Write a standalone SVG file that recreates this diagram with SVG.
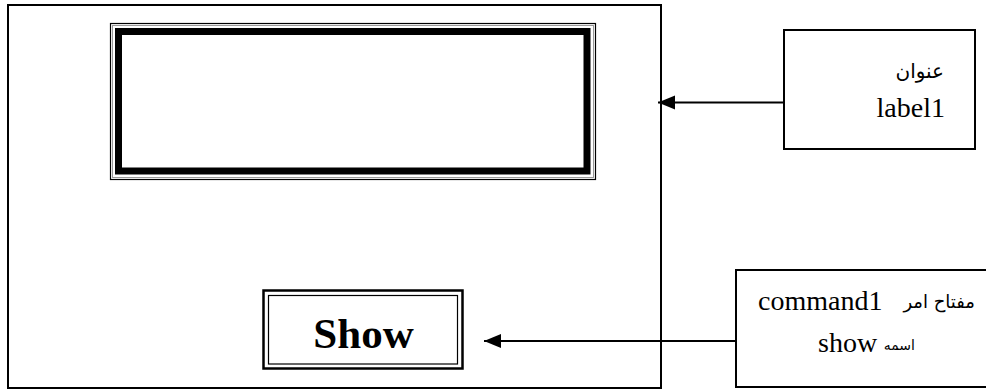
<svg xmlns="http://www.w3.org/2000/svg" width="986" height="390" viewBox="0 0 986 390">
<defs>
<style>
.frame{fill:#fff;stroke:#000;stroke-width:2}
.thin{fill:none;stroke:#000;stroke-width:1.2}
.gray{fill:none;stroke:#999;stroke-width:1}
.lat{font-family:"Liberation Serif","Times New Roman",serif;font-size:28px;fill:#000}
.ar{font-family:"DejaVu Sans","Noto Sans",sans-serif;font-size:20px;fill:#000}
.ar18{font-size:18px}
.ar14{font-size:14px}
.conn{stroke:#000;stroke-width:2;fill:none}
</style>
<marker id="ah" markerUnits="userSpaceOnUse" markerWidth="18" markerHeight="16" refX="17" refY="8" orient="auto">
<path d="M17,8 L0,1 L0,15 Z" fill="#000"/>
</marker>
</defs>
<rect width="986" height="390" fill="#fff"/>
<g id="form">
<rect class="frame" x="8" y="5" width="653" height="383"/>
</g>
<g id="label1-box">
<rect class="thin" x="110.5" y="23.5" width="485" height="156"/>
<rect class="gray" x="112.5" y="25.5" width="481" height="152"/>
<rect fill="none" stroke="#000" stroke-width="7" x="118.5" y="31.5" width="468.5" height="139.5"/>
</g>
<g id="show-button">
<rect fill="none" stroke="#000" stroke-width="2.5" x="263.5" y="290.5" width="199" height="78"/>
<rect class="thin" x="268.5" y="295.5" width="189" height="68.5"/>
<text x="363.5" y="348" text-anchor="middle" font-family="'Liberation Serif','Times New Roman',serif" font-weight="bold" font-size="43" fill="#000">Show</text>
</g>
<g id="label-note">
<rect class="frame" x="784" y="30" width="191" height="119"/>
<text class="ar" x="944" y="78" text-anchor="end">عنوان</text>
<text class="lat" x="945" y="117" text-anchor="end">label1</text>
</g>
<g id="command-note">
<rect class="frame" x="736" y="270" width="260" height="117"/>
<text class="lat" x="758" y="310">command1</text>
<text class="ar ar18" x="975" y="308" text-anchor="end">مفتاح امر</text>
<text class="lat" x="818" y="352">show</text>
<text class="ar ar14" x="915" y="350" text-anchor="end">اسمه</text>
</g>
<g id="connectors">
<line class="conn" x1="784" y1="102.5" x2="658" y2="102.5" marker-end="url(#ah)"/>
<line class="conn" x1="736" y1="341" x2="484" y2="341" marker-end="url(#ah)"/>
</g>
</svg>
